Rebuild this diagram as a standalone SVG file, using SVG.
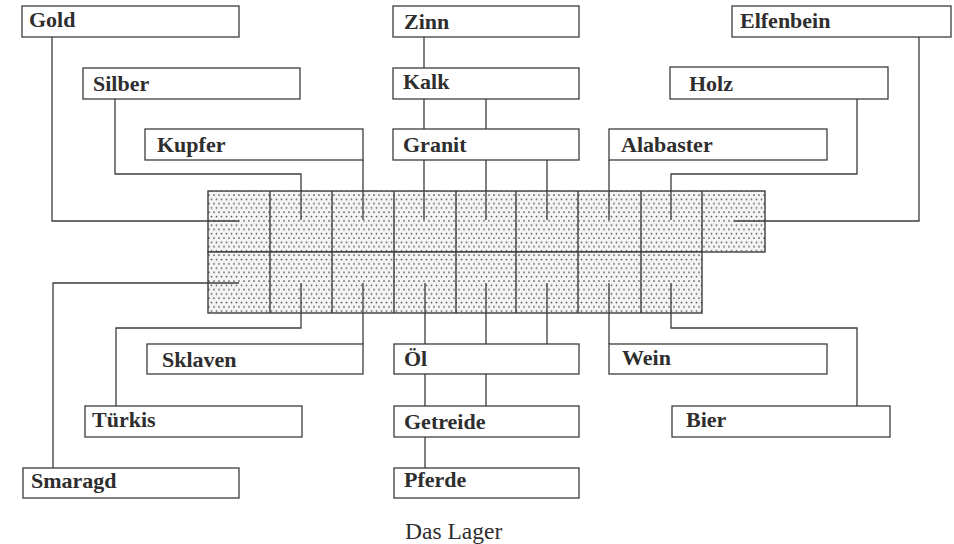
<svg xmlns="http://www.w3.org/2000/svg" width="954" height="544" viewBox="0 0 954 544">
<style>
.box{fill:#fff;stroke:#3c3c3c;stroke-width:1.3}
.lbl{font-family:"Liberation Serif","Times New Roman",serif;font-weight:bold;font-size:22px;fill:#2e2e2e}
.cap{font-family:"Liberation Serif","Times New Roman",serif;font-size:23.5px;fill:#2e2e2e}
.con{fill:none;stroke:#3c3c3c;stroke-width:1.3}
.cell{fill:url(#dots);stroke:#3c3c3c;stroke-width:1.4}
.div{stroke:#3c3c3c;stroke-width:1.4}
</style>
<defs>
<pattern id="dots" width="5" height="8.6" patternUnits="userSpaceOnUse">
<rect width="5" height="8.6" fill="#f4f4f4"/>
<circle cx="1.5" cy="1.5" r="0.9" fill="#555"/>
<circle cx="4" cy="5.8" r="0.9" fill="#555"/>
</pattern>
</defs>
<rect width="954" height="544" fill="#fff"/>
<g id="lager">
<rect class="cell" x="208" y="191" width="557" height="61"/>
<rect class="cell" x="208" y="252" width="494" height="61"/>
<path class="div" d="M270,191V313M332,191V313M394,191V313M456,191V313M516,191V313M578,191V313M641,191V313M702,191V252"/>
</g>
<g id="connectors">
<path class="con" d="M52,37V221H239"/>
<path class="con" d="M115,99V174H301V220"/>
<path class="con" d="M363,160V220"/>
<path class="con" d="M424,37V68"/>
<path class="con" d="M424,99V129M486,99V129"/>
<path class="con" d="M424,160V220M486,160V220M547,160V220"/>
<path class="con" d="M609,160V220"/>
<path class="con" d="M857,99V174H671V220"/>
<path class="con" d="M919,37V221H734"/>
<path class="con" d="M239,283H53V468"/>
<path class="con" d="M301,283V328H116V406"/>
<path class="con" d="M363,283V344"/>
<path class="con" d="M425,283V344M486,283V344M547,283V344"/>
<path class="con" d="M425,374V406M486,374V406"/>
<path class="con" d="M425,437V468"/>
<path class="con" d="M609,283V344"/>
<path class="con" d="M671,283V328H857V406"/>
</g>
<g id="gold"><rect class="box" x="22" y="6" width="217" height="31"/><text class="lbl" x="29" y="27">Gold</text></g>
<g id="silber"><rect class="box" x="83" y="68" width="217" height="31"/><text class="lbl" x="93" y="91">Silber</text></g>
<g id="kupfer"><rect class="box" x="145" y="129" width="218" height="31"/><text class="lbl" x="157" y="152">Kupfer</text></g>
<g id="zinn"><rect class="box" x="393" y="6" width="186" height="31"/><text class="lbl" x="404" y="29">Zinn</text></g>
<g id="kalk"><rect class="box" x="393" y="68" width="186" height="31"/><text class="lbl" x="403" y="89">Kalk</text></g>
<g id="granit"><rect class="box" x="393" y="129" width="186" height="31"/><text class="lbl" x="403" y="152">Granit</text></g>
<g id="alabaster"><rect class="box" x="609" y="129" width="218" height="31"/><text class="lbl" x="621" y="152">Alabaster</text></g>
<g id="holz"><rect class="box" x="670" y="67" width="218" height="32"/><text class="lbl" x="689" y="91">Holz</text></g>
<g id="elfenbein"><rect class="box" x="732" y="6" width="219" height="31"/><text class="lbl" x="740" y="28">Elfenbein</text></g>
<g id="sklaven"><rect class="box" x="147" y="344" width="216" height="30"/><text class="lbl" x="162" y="367">Sklaven</text></g>
<g id="oel"><rect class="box" x="394" y="344" width="185" height="30"/><text class="lbl" x="404" y="366">Öl</text></g>
<g id="wein"><rect class="box" x="609" y="344" width="218" height="30"/><text class="lbl" x="622" y="365">Wein</text></g>
<g id="tuerkis"><rect class="box" x="85" y="406" width="217" height="31"/><text class="lbl" x="92" y="427">Türkis</text></g>
<g id="getreide"><rect class="box" x="394" y="406" width="185" height="31"/><text class="lbl" x="404" y="429">Getreide</text></g>
<g id="bier"><rect class="box" x="672" y="406" width="218" height="31"/><text class="lbl" x="686" y="427">Bier</text></g>
<g id="smaragd"><rect class="box" x="23" y="468" width="216" height="30"/><text class="lbl" x="31" y="488">Smaragd</text></g>
<g id="pferde"><rect class="box" x="394" y="468" width="185" height="30"/><text class="lbl" x="404" y="487">Pferde</text></g>
<text class="cap" x="405" y="539">Das Lager</text>
</svg>
